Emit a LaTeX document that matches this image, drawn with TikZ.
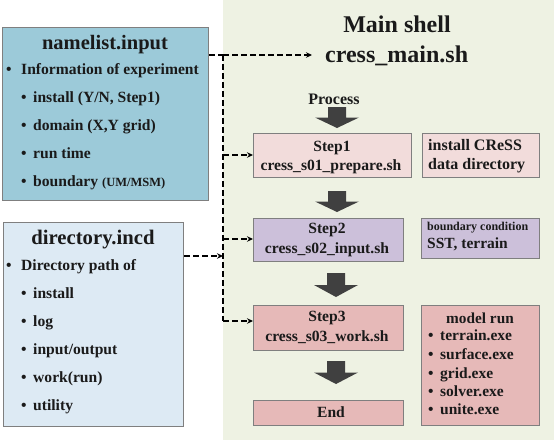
\documentclass[tikz,border=0pt]{standalone}
\usepackage{fontspec}
\setmainfont{Liberation Serif}
\usetikzlibrary{arrows.meta}
\definecolor{bgGreen}{HTML}{EEF2E3}
\definecolor{nlBlue}{HTML}{9CCAD9}
\definecolor{dirBlue}{HTML}{DDEAF4}
\definecolor{pinkA}{HTML}{F2DCDB}
\definecolor{lavB}{HTML}{CCC0DA}
\definecolor{pinkC}{HTML}{E6B9B8}
\definecolor{boxBorder}{HTML}{7F7F7F}
\definecolor{darkArrow}{HTML}{404040}
\definecolor{txt}{HTML}{1A1A1A}
\tikzset{
  box/.style={draw=boxBorder, line width=1.2pt, inner sep=0pt, anchor=north west},
  lbl/.style={inner sep=0pt, text=txt, font=\bfseries\fontsize{#1}{#1}\selectfont},
  lblw/.style={lbl=#1, anchor=mid west},
  blockfill/.style={fill=darkArrow, draw=none},
  dashconn/.style={line width=1.6pt, dash pattern=on 6pt off 3pt, black},
  dashtip/.style={dashconn, -{Stealth[length=6pt,width=5.5pt]}}
}
% block arrow: #1 = x centre, #2 = top y, #3 = tip y
\newcommand{\blockarrowdown}[3]{%
  \fill[blockfill] ({#1-9},#2) -- ({#1+9},#2) -- ({#1+9},{(#2+#3)/2}) -- ({#1+22},{(#2+#3)/2})
    -- (#1,#3) -- ({#1-22},{(#2+#3)/2}) -- ({#1-9},{(#2+#3)/2}) -- cycle;}
\begin{document}
\begin{tikzpicture}[x=1pt,y=-1pt]
\useasboundingbox (0,0) rectangle (554,440);
\fill[bgGreen] (223,0) rectangle (554,440);

% namelist box
\node[box, fill=nlBlue, minimum width=206pt, minimum height=173pt] (namelist) at (2,27) {};
\node[lbl=20.5] (nltitle) at (105,45) {namelist.input};
\node[lblw=15.6] (nlb0) at (6,72) {•};
\node[lblw=15.6] (nl0) at (21,72) {Information of experiment};
\node[lblw=15.6] (nlb1) at (21,100) {•};
\node[lblw=15.6] (nl1) at (33,100) {install (Y/N, Step1)};
\node[lblw=15.6] (nlb2) at (21,128) {•};
\node[lblw=15.6] (nl2) at (33,128) {domain (X,Y grid)};
\node[lblw=15.6] (nlb3) at (21,156) {•};
\node[lblw=15.6] (nl3) at (33,156) {run time};
\node[lblw=15.6] (nlb4) at (21,184) {•};
\node[lblw=15.6] (nl4) at (33,184) {boundary {\fontsize{12.5}{12.5}\selectfont(UM/MSM)}};

% directory box
\node[box, fill=dirBlue, minimum width=180pt, minimum height=204pt] (dir) at (3,222) {};
\node[lbl=20.7] (dirtitle) at (93,240) {directory.incd};
\node[lblw=15.6] (db0) at (6,268) {•};
\node[lblw=15.6] (d0) at (21,268) {Directory path of};
\node[lblw=15.6] (db1) at (21,296) {•};
\node[lblw=15.6] (d1) at (33,296) {install};
\node[lblw=15.6] (db2) at (21,324) {•};
\node[lblw=15.6] (d2) at (33,324) {log};
\node[lblw=15.6] (db3) at (21,352) {•};
\node[lblw=15.6] (d3) at (33,352) {input/output};
\node[lblw=15.6] (db4) at (21,380) {•};
\node[lblw=15.6] (d4) at (33,380) {work(run)};
\node[lblw=15.6] (db5) at (21,408) {•};
\node[lblw=15.6] (d5) at (33,408) {utility};

% main shell
\node[lbl=24, anchor=base] (mainshell) at (397,32) {Main shell};
\node[lbl=24, anchor=base west] (mainsh) at (325,62) {cress\_main.sh};
\coordinate (mainin) at (312,55);
\node[lbl=16] (process) at (334,99) {Process};

% steps
\node[box, fill=pinkA, minimum width=158pt, minimum height=44pt] (s1) at (253,133) {};
\node[lbl=15.6] (s1a) at (332,148) {Step1};
\node[lbl=15.6] (s1b) at (331,167) {cress\_s01\_prepare.sh};
\node[box, fill=pinkA, minimum width=117pt, minimum height=44pt] (r1) at (422,133) {};
\node[lblw=16] (r1a) at (428,148) {install CReSS};
\node[lblw=16] (r1b) at (428,167) {data directory};

\node[box, fill=lavB, minimum width=150pt, minimum height=43pt] (s2) at (253,218) {};
\node[lbl=15.6] (s2a) at (327,230) {Step2};
\node[lbl=15.6] (s2b) at (327,250) {cress\_s02\_input.sh};
\node[box, fill=lavB, minimum width=118pt, minimum height=40pt] (r2) at (421,218) {};
\node[lblw=12] (r2a) at (427,228) {boundary condition};
\node[lblw=15.5] (r2b) at (427,246) {SST, terrain};

\node[box, fill=pinkC, minimum width=150pt, minimum height=45pt] (s3) at (253,305) {};
\node[lbl=15.6] (s3a) at (327,318) {Step3};
\node[lbl=15.6] (s3b) at (327,337) {cress\_s03\_work.sh};
\node[box, fill=pinkC, minimum width=118pt, minimum height=120pt] (r3) at (421,305) {};
\node[lbl=15.3] (r3t) at (480,318) {model run};
\node[lblw=15.5] (r3b1) at (428,338) {•};
\node[lblw=15.5] (r3i1) at (440,338) {terrain.exe};
\node[lblw=15.5] (r3b2) at (428,357) {•};
\node[lblw=15.5] (r3i2) at (440,357) {surface.exe};
\node[lblw=15.5] (r3b3) at (428,376) {•};
\node[lblw=15.5] (r3i3) at (440,376) {grid.exe};
\node[lblw=15.5] (r3b4) at (428,394) {•};
\node[lblw=15.5] (r3i4) at (440,394) {solver.exe};
\node[lblw=15.5] (r3b5) at (428,412) {•};
\node[lblw=15.5] (r3i5) at (440,412) {unite.exe};

\node[box, fill=pinkC, minimum width=150pt, minimum height=25pt] (endn) at (253,400) {};
\node[lbl=15.6] (endt) at (331,412) {End};

% block arrows
\blockarrowdown{337}{107}{128}
\blockarrowdown{337}{191}{212}
\blockarrowdown{336}{273}{297}
\blockarrowdown{336}{361}{384}

% dashed connectors
\coordinate (jtop) at (223,55);
\coordinate (jbot) at (223,321);
\draw[dashconn] (namelist.east |- jtop) -- (jtop);
\draw[dashtip] (jtop) -- (mainin);
\draw[dashconn] (jtop) -- (jbot);
\draw[dashtip] (223,155) -- (s1.west |- 0,155);
\draw[dashtip] (223,239) -- (s2.west |- 0,239);
\draw[dashtip] (jbot) -- (s3.west |- jbot);
\draw[dashtip] (dir.east |- 0,256) -- (223,256);
\end{tikzpicture}
\end{document}
